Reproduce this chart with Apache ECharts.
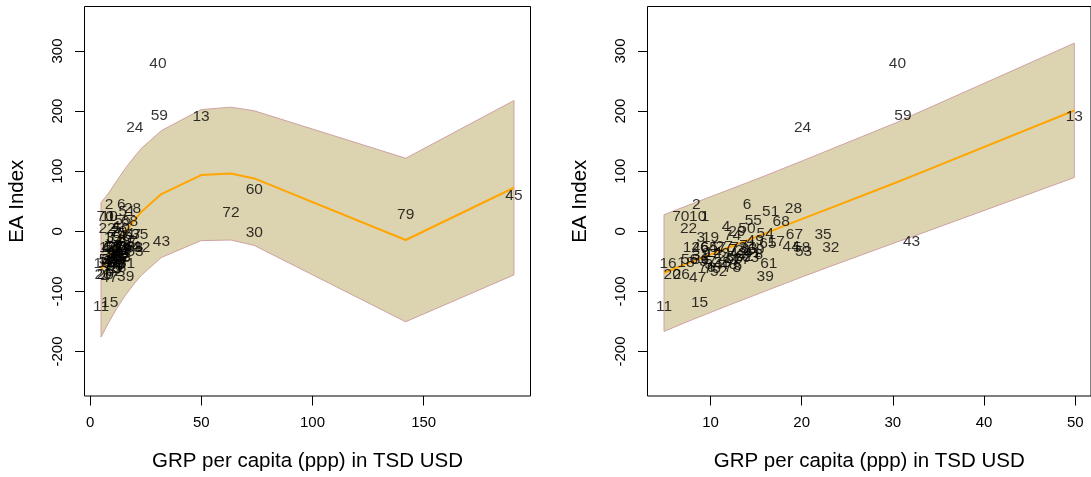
<!DOCTYPE html>
<html>
<head>
<meta charset="utf-8">
<script src="https://cdn.jsdelivr.net/npm/echarts@6/dist/echarts.min.js"></script>
<style>
  html, body { margin: 0; padding: 0; background: #fff; }
  #chart { width: 1091px; height: 477px; }
</style>
</head>
<body>
<div id="chart"></div>
<script>
// Region identifiers and their observations
const regionIds = [
   1,  2,  3,  4,  5,  6,  7,  8,  9, 10,
  11, 12, 13, 14, 15, 16, 17, 18, 19, 20,
  21, 22, 23, 24, 25, 26, 27, 28, 29, 30,
  31, 32, 33, 34, 35, 36, 37, 38, 39, 40,
  41, 42, 43, 44, 45, 46, 47, 48, 49, 50,
  51, 52, 53, 54, 55, 56, 57, 58, 59, 60,
  61, 62, 63, 64, 65, 66, 67, 68, 69, 70,
  71, 72, 73, 74, 75, 76, 77, 78, 79
];
// GRP per capita (ppp), thousand USD
const grpPerCapita = [
   9.4,  8.45,  8.95, 11.7, 13.0, 14.0, 12.5, 15.3,  9.5,  8.6,
   4.9,  7.9,  49.9,  10.3,  8.8,  5.35, 17.2,  7.3, 10.0,  5.8,
  13.6,  7.6,  11.2,  20.1, 11.8,  6.8, 11.5, 19.1, 12.9, 73.8,
   8.9, 23.2,  14.2,  10.3, 22.35, 8.9,  9.7, 11.3, 16.0, 30.5,
  14.6, 13.0,  32.05, 18.85, 190.6, 8.9, 8.6, 12.0, 14.9, 14.0,
  16.6, 10.9,  20.2,  16.0, 14.7,  7.7, 10.8, 20.0, 31.1, 73.8,
  16.4, 13.7,  14.4,   9.8, 16.3, 12.6, 19.2, 17.75, 15.0, 6.75,
  14.1, 63.3,  13.1,  12.4, 10.2,  9.6, 13.4, 12.4, 141.9
];
// EA index
const eaIndex = [
    24,  44.5, -11,    8.3, -57,   45,  -30,  -39,  -37,   24,
  -126,  -27,  190.5, -35, -118.7, -54,  -17,  -52,  -11,  -73,
   -33,    5,  -38,   172.5, -42,  -73,  -25,   38,    0,   -3,
   -40, -27.7, -29,   -55,  -5.6,  -48,  -51,  -52, -76.3, 279,
   -36,  -38,  -17,   -26,   59,   -27, -76.5, -56,  -16,  3.8,
    33,  -67,  -34,  -4.5,   18,   -47,  -27,  -27, 191.7,  70,
 -54.2,  -42,  -44,   -28,  -20,   -45, -5.6, 15.5,  -31, 24.5,
   -24, 31.5,  -27,    -7,  -63,   -60,  -48,  -60,   27
];

// Cubic fit with prediction band, evaluated at the sorted GRP values
const cubicX     = [4.9,   8,    12,   16,    20.2,  23.2,  30.5,  32.05, 49.9,  63.3,  73.8,  141.9,  190.6];
const cubicFit   = [-64,  -46,  -22,    0,    20,    33,    57,    62,    93.5,  96,    88,    -14.5,   72.5];
const cubicUpper = [48,    62,   84,  105.5, 125.5, 138.5, 162.5, 167.5, 202.5, 206.5, 200.5,  121.5,  217.5];
const cubicLower = [-176, -154, -128, -105.5, -85.5, -72.5, -48.5, -43.5, -15.5, -14.5, -23.5, -150.5,  -72.5];

// Linear fit with prediction band for GRP up to 50
const linX     = [4.9,    8,    12,    16,   20.2,  23.2,  30.5,  32.05, 49.9];
const linFit   = [-69,   -50.5, -27,   -3.5,  21.5,  39,    82,    91.5, 201];
const linUpper = [27.5,   46,    69,   92.5, 118,   136.5, 181.5, 192.5, 313];
const linLower = [-166.5, -147, -123, -99.5, -75,   -58,   -17.5,  -9.5,  89.5];

// Axis ticks
const xTicksAll  = [0, 50, 100, 150];
const xTicksZoom = [10, 20, 30, 40, 50];
const yTicks     = [-200, -100, 0, 100, 200, 300];

const FONT = '"Liberation Sans", Arial, Helvetica, sans-serif';
const X_TITLE = 'GRP per capita (ppp) in TSD USD';
const Y_TITLE = 'EA Index';

function pointsUpTo(maxX) {
  const out = [];
  for (let i = 0; i < regionIds.length; i++) {
    if (grpPerCapita[i] <= maxX) out.push([grpPerCapita[i], eaIndex[i], regionIds[i]]);
  }
  return out;
}

function pairs(xs, ys) {
  return xs.map((x, i) => [x, ys[i]]);
}

function xAxisCfg(gridIndex, min, max, ticks) {
  return {
    type: 'value', gridIndex, min, max, position: 'bottom',
    name: X_TITLE, nameLocation: 'middle', nameGap: 55,
    nameTextStyle: { fontFamily: FONT, fontSize: 20.5, color: '#000' },
    axisLine: { show: false, onZero: false },
    splitLine: { show: false },
    axisTick: { show: true, inside: false, length: 9.5, customValues: ticks,
                lineStyle: { color: '#000', width: 1 } },
    axisLabel: { customValues: ticks, fontFamily: FONT, fontSize: 15, color: '#000', margin: 19 }
  };
}

function yAxisCfg(gridIndex) {
  return {
    type: 'value', gridIndex, min: -274, max: 374, position: 'left',
    name: Y_TITLE, nameLocation: 'middle', nameGap: 57, nameRotate: 90,
    nameTextStyle: { fontFamily: FONT, fontSize: 20.5, color: '#000' },
    axisLine: { show: false, onZero: false },
    splitLine: { show: false },
    axisTick: { show: true, inside: false, length: 9.5, customValues: yTicks,
                lineStyle: { color: '#000', width: 1 } },
    axisLabel: { customValues: yTicks, rotate: 90, fontFamily: FONT, fontSize: 15, color: '#000', margin: 19 }
  };
}

function bandSeries(idx, xs, up, lo) {
  return {
    type: 'custom', coordinateSystem: 'cartesian2d',
    xAxisIndex: idx, yAxisIndex: idx, silent: true, z: 1,
    data: [[xs[0], up[0]]],
    renderItem: function (params, api) {
      const pts = [];
      for (let i = 0; i < xs.length; i++) pts.push(api.coord([xs[i], up[i]]));
      for (let i = xs.length - 1; i >= 0; i--) pts.push(api.coord([xs[i], lo[i]]));
      return {
        type: 'polygon',
        shape: { points: pts },
        style: { fill: '#DCD3B1', stroke: '#CFA2A2', lineWidth: 1 }
      };
    }
  };
}

function fitSeries(idx, xs, ys) {
  return {
    type: 'line', xAxisIndex: idx, yAxisIndex: idx, z: 2,
    data: pairs(xs, ys), showSymbol: false, silent: true,
    lineStyle: { color: '#FFA500', width: 2 }
  };
}

function labelSeries(idx, data) {
  return {
    type: 'scatter', xAxisIndex: idx, yAxisIndex: idx, z: 3,
    data, symbolSize: 1, silent: true,
    itemStyle: { color: 'rgba(0,0,0,0)' },
    label: {
      show: true, position: 'inside',
      formatter: p => String(p.value[2]),
      fontFamily: FONT, fontSize: 15.5, color: '#000'
    },
    labelLayout: { hideOverlap: false }
  };
}

const gridBox = { show: true, borderColor: '#000', borderWidth: 1, backgroundColor: 'transparent' };

const zoomMax = 51.73;

const option = {
  animation: false,
  backgroundColor: '#fff',
  grid: [
    Object.assign({ left: 84.5, top: 6.5, width: 446, height: 391 }, gridBox),
    Object.assign({ left: 647.5, top: 6.5, width: 447.5, height: 391 }, gridBox)
  ],
  xAxis: [
    xAxisCfg(0, -2.54, 198.03, xTicksAll),
    xAxisCfg(1, 3.09, zoomMax, xTicksZoom)
  ],
  yAxis: [yAxisCfg(0), yAxisCfg(1)],
  series: [
    bandSeries(0, cubicX, cubicUpper, cubicLower),
    fitSeries(0, cubicX, cubicFit),
    labelSeries(0, pointsUpTo(Infinity)),
    bandSeries(1, linX, linUpper, linLower),
    fitSeries(1, linX, linFit),
    labelSeries(1, pointsUpTo(50))
  ]
};

const chart = echarts.init(document.getElementById('chart'));
chart.setOption(option);
</script>
</body>
</html>
